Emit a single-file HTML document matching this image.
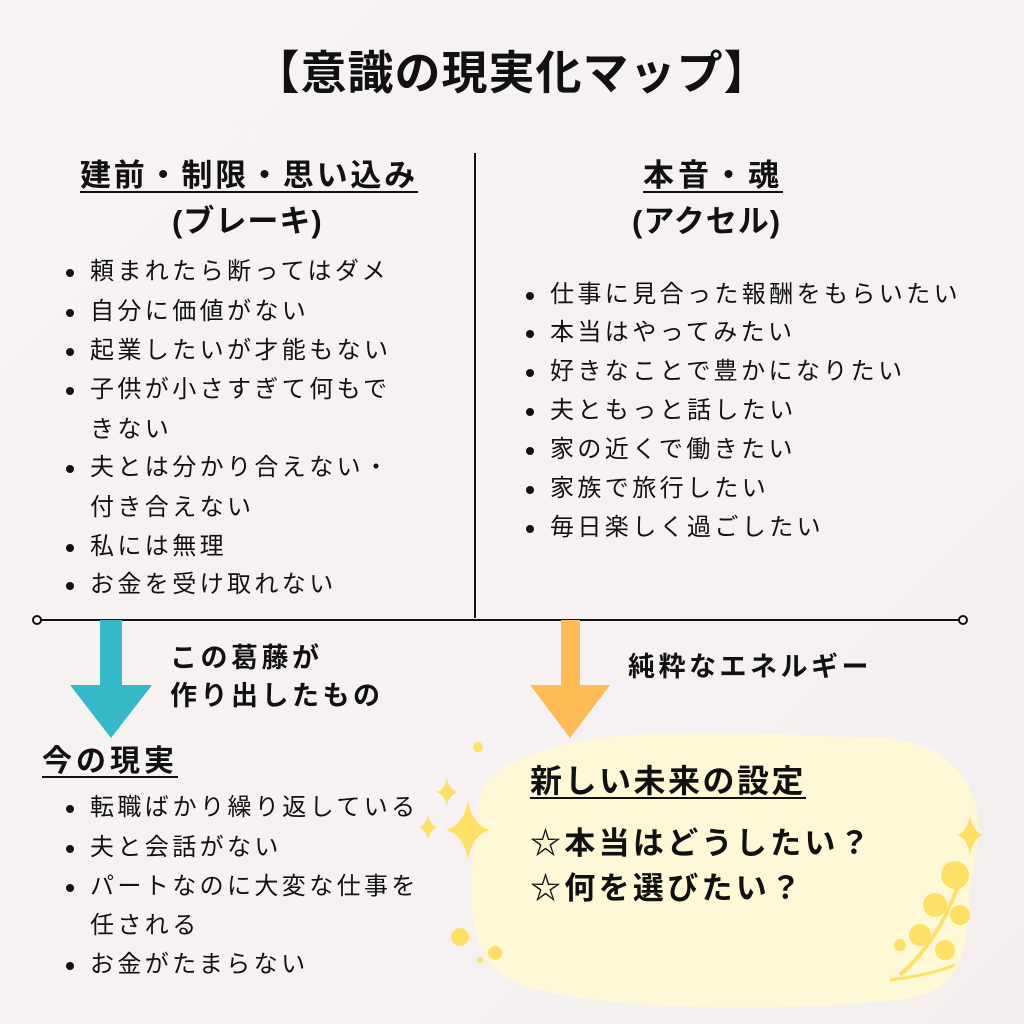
<!DOCTYPE html>
<html><head><meta charset="utf-8"><style>
body{margin:0;width:1024px;height:1024px;overflow:hidden;background:linear-gradient(135deg,#f8f3f3,#f6f1f2 60%,#f3eeee);font-family:"Liberation Sans","Noto Sans CJK JP",sans-serif;color:#111;position:relative}
.a{position:absolute;white-space:nowrap;line-height:1}
.b{font-weight:bold}
.li{font-size:24px;letter-spacing:3.4px}
.li:before{content:"";position:absolute;left:-24px;top:9px;width:8px;height:8px;border-radius:50%;background:#111}
.t{font-size:24px;letter-spacing:3.4px}
u{text-decoration-thickness:2px;text-underline-offset:5px}
</style></head><body>
<svg class="a" style="left:0;top:0" width="1024" height="1024">
<path d="M520 760 C600 720 760 735 880 738 C960 740 990 800 975 860 C960 920 985 990 900 1000 C780 1012 620 1010 540 990 C460 975 470 900 475 840 C478 790 480 775 520 760Z" fill="#fff8d6"/>
<line x1="475" y1="153" x2="475" y2="618" stroke="#111" stroke-width="2"/>
<line x1="37" y1="620" x2="963" y2="620" stroke="#111" stroke-width="2"/>
<circle cx="37" cy="620" r="4" fill="#fff" stroke="#111" stroke-width="2"/>
<circle cx="963" cy="620" r="4" fill="#fff" stroke="#111" stroke-width="2"/>
<rect x="100" y="620" width="22" height="66" fill="#35b8c8"/>
<polygon points="70,685 152,685 111,738" fill="#35b8c8"/>
<rect x="561" y="620" width="19" height="66" fill="#ffbb55"/>
<polygon points="530,685 610,685 570,738" fill="#ffbb55"/>
<g fill="#ffe066">
<path d="M468 800 Q472 825 490 830 Q472 835 468 860 Q464 835 446 830 Q464 825 468 800Z"/>
<path d="M447 778 Q449 790 458 792 Q449 795 447 806 Q445 795 436 792 Q445 790 447 778Z"/>
<path d="M428 815 Q430 825 437 827 Q430 830 428 840 Q426 830 419 827 Q426 825 428 815Z"/>
<circle cx="460" cy="937" r="9"/><circle cx="495" cy="953" r="7"/><circle cx="480" cy="960" r="3"/>
<circle cx="478" cy="747" r="5"/>
<path d="M970 815 Q973 832 983 835 Q973 838 970 855 Q967 838 957 835 Q967 832 970 815Z"/>
<circle cx="955" cy="875" r="14"/><circle cx="935" cy="905" r="12"/><circle cx="960" cy="915" r="10"/><circle cx="920" cy="935" r="11"/><circle cx="945" cy="950" r="10"/><circle cx="900" cy="945" r="6"/>
<path d="M900 975 Q940 940 960 880" stroke="#ffe066" stroke-width="4" fill="none"/>
<path d="M890 980 Q930 975 955 965" stroke="#ffe066" stroke-width="3" fill="none"/>
</g>
</svg>
<div class="a b" style="left:0;width:1024px;text-align:center;top:50px;font-size:46px;letter-spacing:1px">【意識の現実化マップ】</div>
<div class="a b" style="left:80px;top:160px;font-size:31px;letter-spacing:2.8px"><u>建前・制限・思い込み</u></div>
<div class="a b" style="left:172px;top:206px;font-size:31px;letter-spacing:1px">(ブレーキ)</div>
<div class="a b" style="left:643px;top:160px;font-size:31px;letter-spacing:4px"><u>本音・魂</u></div>
<div class="a b" style="left:632px;top:206px;font-size:31px;letter-spacing:1px">(アクセル)</div>
<div class="a li" style="left:90px;top:260px">頼まれたら断ってはダメ</div>
<div class="a li" style="left:90px;top:300px">自分に価値がない</div>
<div class="a li" style="left:90px;top:339px">起業したいが才能もない</div>
<div class="a li" style="left:90px;top:378px">子供が小さすぎて何もで</div>
<div class="a t" style="left:90px;top:418px">きない</div>
<div class="a li" style="left:90px;top:456px">夫とは分かり合えない・</div>
<div class="a t" style="left:90px;top:496px">付き合えない</div>
<div class="a li" style="left:90px;top:535px">私には無理</div>
<div class="a li" style="left:90px;top:573px">お金を受け取れない</div>
<div class="a li" style="left:550px;top:283px">仕事に見合った報酬をもらいたい</div>
<div class="a li" style="left:550px;top:321px">本当はやってみたい</div>
<div class="a li" style="left:550px;top:360px">好きなことで豊かになりたい</div>
<div class="a li" style="left:550px;top:399px">夫ともっと話したい</div>
<div class="a li" style="left:550px;top:438px">家の近くで働きたい</div>
<div class="a li" style="left:550px;top:477px">家族で旅行したい</div>
<div class="a li" style="left:550px;top:516px">毎日楽しく過ごしたい</div>
<div class="a b" style="left:170px;top:645px;font-size:27px;letter-spacing:3.5px">この葛藤が</div>
<div class="a b" style="left:170px;top:683px;font-size:27px;letter-spacing:3.5px">作り出したもの</div>
<div class="a b" style="left:628px;top:654px;font-size:27px;letter-spacing:3.5px">純粋なエネルギー</div>
<div class="a b" style="left:42px;top:747px;font-size:30px;letter-spacing:4px"><u>今の現実</u></div>
<div class="a li" style="left:90px;top:796px">転職ばかり繰り返している</div>
<div class="a li" style="left:90px;top:836px">夫と会話がない</div>
<div class="a li" style="left:90px;top:875px">パートなのに大変な仕事を</div>
<div class="a t" style="left:90px;top:914px">任される</div>
<div class="a li" style="left:90px;top:953px">お金がたまらない</div>
<div class="a b" style="left:530px;top:765px;font-size:32px;letter-spacing:2.5px"><u>新しい未来の設定</u></div>
<div class="a b" style="left:530px;top:828px;font-size:31px;letter-spacing:3.3px">☆本当はどうしたい？</div>
<div class="a b" style="left:530px;top:873px;font-size:31px;letter-spacing:3.3px">☆何を選びたい？</div>
</body></html>
